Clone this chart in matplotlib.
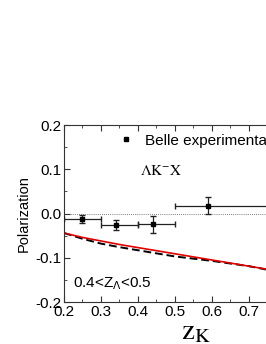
import matplotlib
matplotlib.use("Agg")
import matplotlib.pyplot as plt
from matplotlib.lines import Line2D
from matplotlib.ticker import MultipleLocator

plt.rcParams['font.family'] = ['Liberation Sans', 'DejaVu Sans']

# Belle data points
z_pts = [0.25, 0.34, 0.44, 0.59]
pol_pts = [-0.012, -0.026, -0.024, 0.018]
pol_err = [0.009, 0.012, 0.019, 0.019]
x_lo = [0.20, 0.30, 0.40, 0.50]
x_hi = [0.30, 0.40, 0.50, 1.00]

# model curves
z_curve = [0.20, 0.25, 0.30, 0.35, 0.40, 0.45, 0.50, 0.55, 0.60, 0.65, 0.70, 0.75]
pol_red = [-0.044, -0.054, -0.062, -0.070, -0.077, -0.084, -0.091, -0.098, -0.105, -0.112, -0.119, -0.126]
pol_dash = [-0.044, -0.057, -0.068, -0.076, -0.083, -0.090, -0.097, -0.102, -0.107, -0.113, -0.119, -0.127]

fig = plt.figure(figsize=(2.66, 3.44), dpi=100)
ax = fig.add_axes([0.2406, 0.122, 0.765, 0.5145])

xerr = [[z - lo for z, lo in zip(z_pts, x_lo)], [hi - z for z, hi in zip(z_pts, x_hi)]]
ax.errorbar(z_pts, pol_pts, yerr=pol_err, xerr=xerr, fmt='s', color='black',
            ecolor='#222222', elinewidth=0.9, capsize=2, markersize=3, zorder=3)
ax.plot(z_curve, pol_dash, color='black', lw=1.4, ls=(0, (4, 2)), zorder=2)
ax.plot(z_curve, pol_red, color='#e00000', lw=1.2, zorder=2)
ax.axhline(0, color='#555555', lw=0.6, ls=(0, (1, 1.5)), zorder=1)

ax.set_xlim(0.2, 0.75)
ax.set_ylim(-0.2, 0.2)
ax.xaxis.set_major_locator(MultipleLocator(0.1))
ax.xaxis.set_minor_locator(MultipleLocator(0.05))
ax.yaxis.set_major_locator(MultipleLocator(0.1))
ax.yaxis.set_minor_locator(MultipleLocator(0.05))
ax.tick_params(which='both', direction='in', top=True, right=False, color='#333333')
ax.tick_params(which='major', length=4, labelsize=11, pad=2)
ax.tick_params(which='minor', length=2)
for s in ax.spines.values():
    s.set_color('#333333')
ax.spines['right'].set_visible(False)

xticks = [0.2, 0.3, 0.4, 0.5, 0.6, 0.7]
ax.set_xticks(xticks)
ax.set_xticklabels(['%.1f' % v for v in xticks])
ax.set_yticks([-0.2, -0.1, 0.0, 0.1, 0.2])
ax.set_yticklabels(['-0.2', '-0.1', '0.0', '0.1', '0.2'])

ax.set_ylabel('Polarization', fontsize=10.5)
ax.yaxis.set_label_coords(-0.165, 0.5)
fig.text(0.737, 0.038, r'$\mathrm{z_K}$', fontsize=21, math_fontfamily='stix',
         ha='center', va='center')

handle = Line2D([], [], ls='none', marker='s', color='black', markersize=3)
ax.legend([handle], ['Belle experimenta'], loc='upper left', bbox_to_anchor=(0.235, 0.985),
          frameon=False, fontsize=11, handlelength=1.0, handletextpad=0.8, borderaxespad=0)
ax.text(0.375, 0.72, r'$\mathrm{\Lambda K^{-}X}$', transform=ax.transAxes, fontsize=11,
        math_fontfamily='stix')
ax.text(0.045, 0.085, r'0.4<Z$_\Lambda$<0.5', transform=ax.transAxes, fontsize=11,
        math_fontfamily='dejavusans')

fig.savefig('out.png', dpi=100)
